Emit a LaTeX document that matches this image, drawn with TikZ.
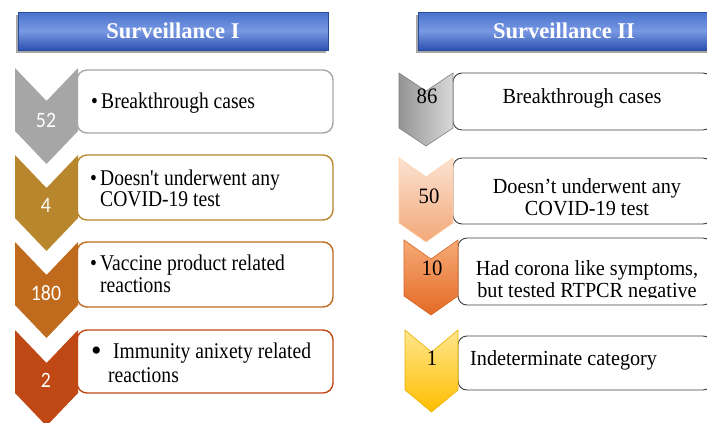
\documentclass[tikz,border=0pt]{standalone}
\usepackage{fontspec}
\setmainfont{Liberation Serif}
\newfontfamily\titlefont{Liberation Serif}
\newfontfamily\lefttext{Liberation Serif}[FakeStretch=0.87]
\newfontfamily\righttext{Liberation Serif}[FakeStretch=0.94]
\newfontfamily\numfont{Carlito}[FakeStretch=0.9]

\definecolor{lgray}{HTML}{A6A6A6}
\definecolor{lgold}{HTML}{B8862C}
\definecolor{lorange}{HTML}{C06A1E}
\definecolor{lred}{HTML}{C04814}
\definecolor{bantop}{HTML}{4A73CF}
\definecolor{banmid}{HTML}{7898E2}
\definecolor{banbot}{HTML}{2C52B0}
\definecolor{banedge}{HTML}{2A4A9A}

% chevron pointing down: fill options, left x, right x, top y, side height, notch depth
\newcommand{\chevshape}[6]{%
  \path[#1] (#2,#4) -- ({(#2+#3)/2},{#4+#6}) -- (#3,#4) -- (#3,{#4+#5})
    -- ({(#2+#3)/2},{#4+#5+#6}) -- (#2,{#4+#5}) -- cycle;}

\begin{document}
\begin{tikzpicture}[x=1pt,y=-1pt,
  banner/.style={draw=banedge, line width=0.8pt, top color=bantop, bottom color=banbot,
    middle color=banmid, text=white, inner sep=0pt,
    font=\titlefont\bfseries\fontsize{22.5}{24}\selectfont},
  lbox/.style={draw=#1, line width=1.4pt, fill=white, rounded corners=10pt,
    minimum width=256pt, inner sep=0pt},
  rbox/.style={draw=black!75, line width=0.9pt, fill=white, rounded corners=9pt, inner sep=0pt},
  ltxt/.style={anchor=base west, inner sep=0pt, font=\lefttext\fontsize{22.5}{21}\selectfont},
  rtxt/.style={anchor=base, inner sep=0pt, font=\righttext\fontsize{21.5}{22}\selectfont},
  lnum/.style={anchor=base, inner sep=0pt, text=white, font=\numfont\fontsize{22}{22}\selectfont},
  rnum/.style={anchor=base, inner sep=0pt, font=\righttext\fontsize{22}{22}\selectfont},
]
\useasboundingbox (0,0) rectangle (707,423);
\clip (0,0) rectangle (707,423);

% ---------------- Surveillance I ----------------
\fill[black!35] (16,15) rectangle (326,53);
\node[banner, minimum width=310pt, minimum height=38pt] (t1) at (173,31) {Surveillance I};

\node[lbox=lgray,   minimum height=63pt] (l1) at (205,101.5) {};
\node[lbox=lgold,   minimum height=65pt] (l2) at (205,187.5) {};
\node[lbox=lorange, minimum height=65pt] (l3) at (205,274.5) {};
\node[lbox=lred,    minimum height=63pt] (l4) at (205,361.5) {};

\chevshape{fill=lgray}{15}{78}{68}{63}{33}
\chevshape{fill=lgold}{15}{78}{155}{63}{33}
\chevshape{fill=lorange}{15}{78}{242}{63}{33}
\chevshape{fill=lred}{15}{78}{330}{63}{33}

\node[lnum] (n52) at (46,127) {52};
\node[lnum] (n4) at (46,212) {4};
\node[lnum] (n180) at (46,300) {180};
\node[lnum] (n2) at (46,387) {2};

\node[ltxt] (b1) at (91,108) {\textbullet};
\node[ltxt] (s1) at (101,108) {Breakthrough cases};
\node[ltxt] (b2) at (90,185) {\textbullet};
\node[ltxt] (s2a) at (100,185) {Doesn't underwent any};
\node[ltxt] (s2b) at (100,206) {COVID-19 test};
\node[ltxt] (b3) at (90,270) {\textbullet};
\node[ltxt] (s3a) at (100,270) {Vaccine product related};
\node[ltxt] (s3b) at (100,292) {reactions};
\node[ltxt, font=\fontsize{30}{30}\selectfont] (b4) at (91,360) {\textbullet};
\node[ltxt] (s4a) at (113,358) {Immunity anixety related};
\node[ltxt] (s4b) at (108,382) {reactions};

% ---------------- Surveillance II ----------------
\fill[black!35] (416,15) rectangle (712,53);
\node[banner, minimum width=292pt, minimum height=38pt] (t2) at (564,31) {Surveillance II};

\node[rbox, minimum width=259pt, minimum height=57pt] (r1) at (582.5,101.5) {};
\node[rbox, minimum width=259pt, minimum height=66pt] (r2) at (582.5,191) {};
\node[rbox, minimum width=254pt, minimum height=67pt] (r3) at (585,271.5) {};
\node[rbox, minimum width=254pt, minimum height=54pt] (r4) at (585,363) {};

\chevshape{draw=black!50, line width=0.6pt, left color=black!42, right color=black!15}{399}{453}{73}{55}{18}
\chevshape{draw=orange!35, line width=0.6pt, top color={rgb,255:red,252;green,226;blue,210}, bottom color={rgb,255:red,242;green,168;blue,120}}{399}{453}{158}{65}{19}
\chevshape{draw={rgb,255:red,215;green,100;blue,35}, line width=0.6pt, top color={rgb,255:red,246;green,170;blue,118}, bottom color={rgb,255:red,228;green,106;blue,38}}{404}{458}{240}{56}{19}
\chevshape{draw={rgb,255:red,232;green,176;blue,0}, line width=0.6pt, top color={rgb,255:red,255;green,230;blue,140}, bottom color={rgb,255:red,255;green,190;blue,0}}{405}{458}{330}{60}{22}

\node[rnum] (n86) at (427,103) {86};
\node[rnum] (n50) at (429,203) {50};
\node[rnum] (n10) at (432,275) {10};
\node[rnum] (n1) at (432,365) {1};

\node[rtxt] (u1) at (582,103) {Breakthrough cases};
\node[rtxt] (u2a) at (587,193) {Doesn’t underwent any};
\node[rtxt] (u2b) at (587,215) {COVID-19 test};
\node[rtxt] (u3a) at (587,275) {Had corona like symptoms,};
\begin{scope}
  \clip (460,278) rectangle (707,297.5);
  \node[rtxt] (u3b) at (587,297) {but tested RTPCR negative};
\end{scope}
\node[rtxt, anchor=base west] (u4) at (470,365) {Indeterminate category};
\end{tikzpicture}
\end{document}
